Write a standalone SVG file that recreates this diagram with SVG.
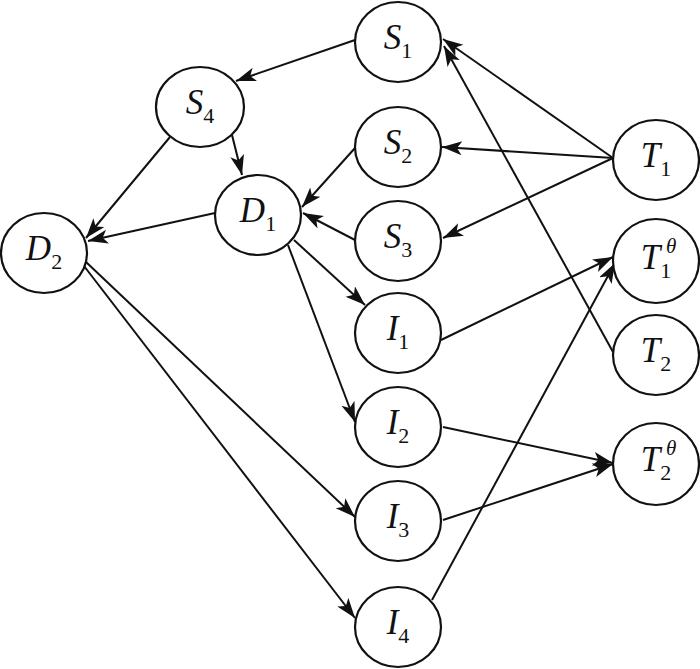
<svg xmlns="http://www.w3.org/2000/svg" width="700" height="669" viewBox="0 0 700 669">
<style>
.n ellipse{fill:#fff;stroke:#111;stroke-width:2.2}
.n text{font-family:"Liberation Serif","Times New Roman",serif;font-style:italic;font-size:35px;fill:#111;text-anchor:middle}
.n text .s{font-size:22px;font-style:normal}
.n text.sup{font-size:21px;text-anchor:start}
#edges line{stroke:#111;stroke-width:2;marker-end:url(#ah)}
</style>
<defs>
<marker id="ah" markerUnits="userSpaceOnUse" markerWidth="24" markerHeight="16" refX="20" refY="7" orient="auto">
<path d="M0,0 L20,7 L0,14 L5,7 z" fill="#111"/>
</marker>
</defs>
<rect width="700" height="669" fill="#fff"/>
<g id="edges">
<line x1="355" y1="40" x2="236" y2="81"/>
<line x1="232" y1="135" x2="242" y2="175"/>
<line x1="170" y1="137" x2="86" y2="238"/>
<line x1="215" y1="213" x2="88" y2="241"/>
<line x1="355" y1="148" x2="302" y2="207"/>
<line x1="355" y1="240" x2="303" y2="213"/>
<line x1="294" y1="240" x2="365" y2="305"/>
<line x1="288" y1="245" x2="355" y2="422"/>
<line x1="86" y1="262" x2="355" y2="517"/>
<line x1="84" y1="266" x2="355" y2="618"/>
<line x1="613" y1="158" x2="443" y2="39"/>
<line x1="613" y1="158" x2="442" y2="147"/>
<line x1="613" y1="158" x2="443" y2="238"/>
<line x1="613" y1="352" x2="444" y2="46"/>
<line x1="441" y1="340" x2="613" y2="257"/>
<line x1="432" y1="600" x2="615" y2="263"/>
<line x1="443" y1="427" x2="613" y2="463"/>
<line x1="443" y1="520" x2="613" y2="464"/>
</g>
<g id="S1" class="n"><ellipse cx="398" cy="42" rx="43" ry="40"/><text x="398" y="49">S<tspan class="s" dy="9">1</tspan></text></g>
<g id="S4" class="n"><ellipse cx="200" cy="107" rx="44" ry="40"/><text x="200" y="114">S<tspan class="s" dy="9">4</tspan></text></g>
<g id="S2" class="n"><ellipse cx="398" cy="147" rx="43" ry="40"/><text x="398" y="154">S<tspan class="s" dy="9">2</tspan></text></g>
<g id="D1" class="n"><ellipse cx="258" cy="215" rx="43" ry="40"/><text x="258" y="222">D<tspan class="s" dy="9">1</tspan></text></g>
<g id="S3" class="n"><ellipse cx="398" cy="241" rx="43" ry="40"/><text x="398" y="248">S<tspan class="s" dy="9">3</tspan></text></g>
<g id="D2" class="n"><ellipse cx="44" cy="253" rx="43" ry="40"/><text x="44" y="260">D<tspan class="s" dy="9">2</tspan></text></g>
<g id="T1" class="n"><ellipse cx="656" cy="160" rx="43" ry="40"/><text x="656" y="167">T<tspan class="s" dy="9">1</tspan></text></g>
<g id="T1theta" class="n"><ellipse cx="656" cy="261" rx="43" ry="42"/><text x="656" y="269">T<tspan class="s" dy="9">1</tspan></text><text class="sup" x="666" y="253">θ</text></g>
<g id="I1" class="n"><ellipse cx="398" cy="333" rx="43" ry="40"/><text x="398" y="340">I<tspan class="s" dy="9">1</tspan></text></g>
<g id="T2" class="n"><ellipse cx="656" cy="355" rx="43" ry="40"/><text x="656" y="362">T<tspan class="s" dy="9">2</tspan></text></g>
<g id="I2" class="n"><ellipse cx="398" cy="427" rx="43" ry="40"/><text x="398" y="434">I<tspan class="s" dy="9">2</tspan></text></g>
<g id="T2theta" class="n"><ellipse cx="656" cy="464" rx="43" ry="41"/><text x="656" y="471">T<tspan class="s" dy="9">2</tspan></text><text class="sup" x="666" y="455">θ</text></g>
<g id="I3" class="n"><ellipse cx="398" cy="521" rx="43" ry="40"/><text x="398" y="528">I<tspan class="s" dy="9">3</tspan></text></g>
<g id="I4" class="n"><ellipse cx="398" cy="627" rx="43" ry="40"/><text x="398" y="634">I<tspan class="s" dy="9">4</tspan></text></g>
</svg>
